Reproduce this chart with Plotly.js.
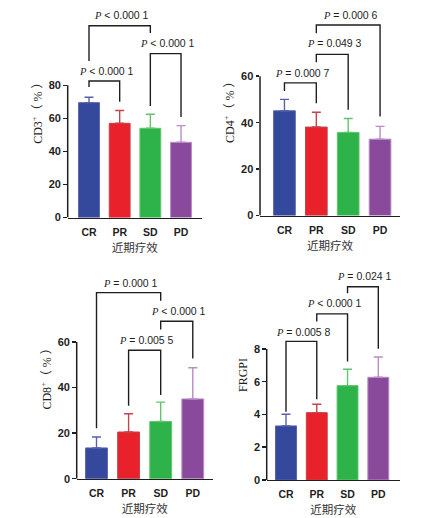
<!DOCTYPE html>
<html>
<head>
<meta charset="utf-8">
<script src="https://cdn.plot.ly/plotly-3.0.1.min.js"></script>
<style>html,body{margin:0;padding:0;background:#fff;}#chart{width:429px;height:518px;}</style>
</head>
<body>
<div id="chart"></div>
<script>
// ---------- data ----------
const categories = ['CR', 'PR', 'SD', 'PD'];
const xTitle = '近期疗效';

const cd3Mean = [69.5, 57.0, 54.0, 45.5];
const cd3Err  = [3.3, 7.8, 8.5, 10.1];
const cd4Mean = [45.1, 38.1, 35.8, 32.9];
const cd4Err  = [4.9, 6.4, 6.0, 5.5];
const cd8Mean = [13.5, 20.5, 25.1, 35.0];
const cd8Err  = [4.8, 8.0, 8.5, 13.7];
const frgpiMean = [3.30, 4.11, 5.76, 6.27];
const frgpiErr  = [0.71, 0.51, 1.00, 1.24];

const yTitles = ['CD3<sup>+</sup>（ % ）', 'CD4<sup>+</sup>（ % ）', 'CD8<sup>+</sup>（ % ）', 'FRGPI'];
const yTicks = [[0, 20, 40, 60, 80], [0, 20, 40, 60], [0, 20, 40, 60], [0, 2, 4, 6, 8]];

// comparisons: [group A, group B, p text]
const cd3Tests = [['CR', 'PR', '< 0.000 1'], ['SD', 'PD', '< 0.000 1'], ['CR', 'SD', '< 0.000 1']];
const cd4Tests = [['CR', 'PR', '= 0.000 7'], ['PR', 'SD', '= 0.049 3'], ['PR', 'PD', '= 0.000 6']];
const cd8Tests = [['CR', 'SD', '= 0.000 1'], ['SD', 'PD', '< 0.000 1'], ['PR', 'SD', '= 0.005 5']];
const frgpiTests = [['CR', 'PR', '= 0.005 8'], ['PR', 'SD', '< 0.000 1'], ['SD', 'PD', '= 0.024 1']];

// ---------- styling / layout ----------
const barColors = ['#34499b', '#e8212b', '#2db34a', '#8a4a9c'];
const errColors = ['#5961ab', '#c2444c', '#62c46e', '#b98cc6'];
const ink = '#1e1e1e';

// bracket geometry per panel (in data units): [top, left leg bottom, right leg bottom, label y]
const panels = [
  { mean: cd3Mean, err: cd3Err, tests: cd3Tests,
    xd: [0.1578, 0.4702], yd: [0.5801, 0.9948], xr: [-0.695, 3.675], yr: [0, 130],
    geo: [[82.6, 79, 70.1, 88.6], [99.2, 67.5, 60.8, 105.4], [116, 94.7, 111.6, 122.5]] },
  { mean: cd4Mean, err: cd4Err, tests: cd4Tests,
    xd: [0.6061, 0.9324], yd: [0.5838, 0.9942], xr: [-0.767, 3.626], yr: [0, 91.5],
    geo: [[57.1, 53.6, 48.3, 61.5], [69.4, 66, 45.5, 74.2], [82.0, 78.5, 42.6, 86.4]] },
  { mean: cd8Mean, err: cd8Err, tests: cd8Tests,
    xd: [0.1788, 0.4965], yd: [0.0759, 0.473], xr: [-0.617, 3.63], yr: [0, 90.3],
    geo: [[81.7, 22.1, 78.1, 86.0], [69.1, 65.5, 52.8, 73.5], [56.4, 32.0, 36.7, 60.7]] },
  { mean: frgpiMean, err: frgpiErr, tests: frgpiTests,
    xd: [0.6217, 0.9324], yd: [0.0734, 0.4788], xr: [-0.627, 3.705], yr: [0, 12.82],
    geo: [[8.46, 4.17, 4.93, 9.06], [10.14, 9.68, 7.24, 10.78], [11.8, 11.4, 8.01, 12.46]] }
];

const traces = [];
const shapes = [];
const annotations = [];
const layout = {
  width: 429, height: 518,
  margin: { l: 0, r: 0, t: 0, b: 0 },
  paper_bgcolor: '#ffffff', plot_bgcolor: 'rgba(0,0,0,0)',
  showlegend: false, barmode: 'overlay',
  font: { family: 'Liberation Sans, Arial, sans-serif', color: ink }
};

panels.forEach((p, k) => {
  const n = k + 1;
  const xa = n === 1 ? 'x' : 'x' + n;
  const ya = n === 1 ? 'y' : 'y' + n;
  const xKey = n === 1 ? 'xaxis' : 'xaxis' + n;
  const yKey = n === 1 ? 'yaxis' : 'yaxis' + n;

  categories.forEach((c, i) => {
    traces.push({
      type: 'bar', x: [i], y: [p.mean[i]], width: 0.68,
      xaxis: xa, yaxis: ya,
      marker: { color: barColors[i], line: { color: errColors[i], width: 1 } },
      error_y: { type: 'data', symmetric: false, array: [p.err[i]], arrayminus: [0],
                 color: errColors[i], thickness: 1.4, width: 4.5 },
      hoverinfo: 'skip'
    });
  });

  layout[xKey] = {
    domain: p.xd, anchor: ya, range: p.xr, fixedrange: true,
    tickmode: 'array', tickvals: categories.map((c, i) => i), ticktext: categories,
    showline: true, linecolor: ink, linewidth: 1.5, ticks: '', ticklabelstandoff: 4,
    showgrid: false, zeroline: false,
    tickfont: { family: 'Liberation Sans, Arial, sans-serif', size: 10.5, weight: 'bold', color: ink },
    title: { text: xTitle, standoff: 7,
             font: { family: 'Noto Sans CJK SC, sans-serif', size: 11.5, color: '#333' } }
  };
  layout[yKey] = {
    domain: p.yd, anchor: xa, range: p.yr, fixedrange: true,
    tickmode: 'array', tickvals: yTicks[k],
    showline: false, ticks: 'outside', ticklen: 3.5, tickwidth: 1.5, tickcolor: ink,
    showgrid: false, zeroline: false,
    tickfont: { family: 'Liberation Sans, Arial, sans-serif', size: 11, weight: 'bold', color: ink },
    title: { text: yTitles[k], standoff: 3,
             font: { family: 'Liberation Serif, Times New Roman, Noto Sans CJK SC, serif', size: 12, color: ink } }
  };

  // y axis line only up to the highest tick
  shapes.push({ type: 'line', xref: xa + ' domain', yref: ya, x0: 0, x1: 0,
                y0: 0, y1: yTicks[k][yTicks[k].length - 1],
                line: { color: ink, width: 1.5 } });

  // significance brackets
  p.tests.forEach((t, j) => {
    const a = categories.indexOf(t[0]);
    const b = categories.indexOf(t[1]);
    const g = p.geo[j];
    shapes.push({ type: 'path', xref: xa, yref: ya,
      path: `M ${a} ${g[1]} L ${a} ${g[0]} L ${b} ${g[0]} L ${b} ${g[2]}`,
      line: { color: ink, width: 1.4 } });
    annotations.push({ xref: xa, yref: ya, x: (a + b) / 2, y: g[3], xshift: 2,
      xanchor: 'center', yanchor: 'middle', showarrow: false,
      text: `<span style="font-family:'Liberation Serif', serif"><i>P</i></span> ${t[2]}`,
      font: { family: 'Liberation Sans, Arial, sans-serif', size: 10.5, color: ink } });
  });
});

layout.shapes = shapes;
layout.annotations = annotations;

Plotly.newPlot('chart', traces, layout, { displayModeBar: false, staticPlot: true });
</script>
</body>
</html>
